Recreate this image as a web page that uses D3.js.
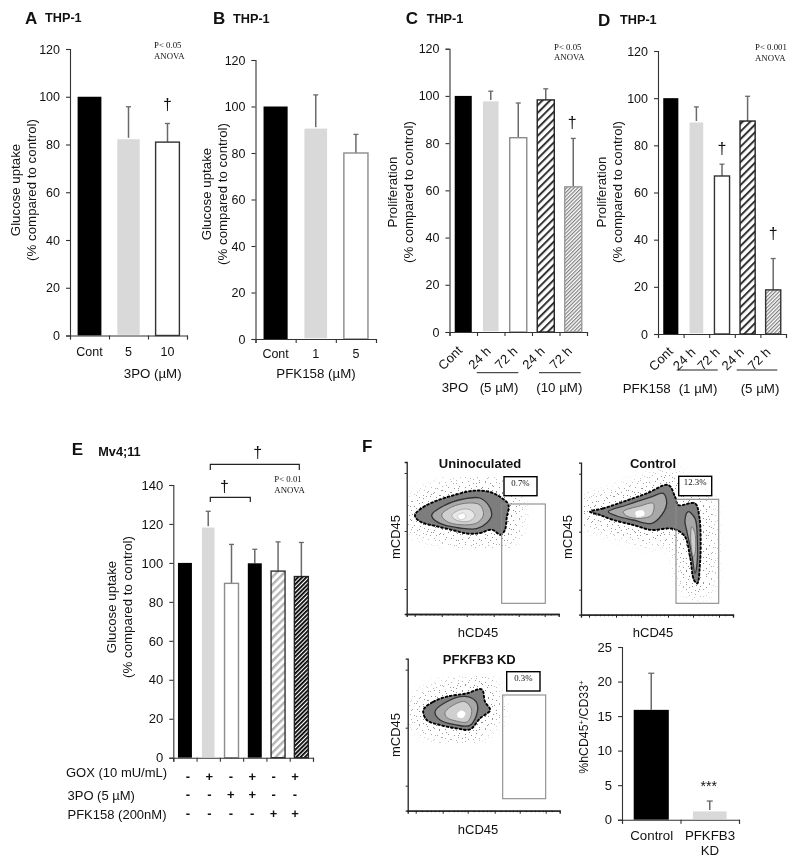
<!DOCTYPE html>
<html><head><meta charset="utf-8">
<script src="https://cdn.jsdelivr.net/npm/d3@7"></script>
<style>html,body{margin:0;padding:0;background:#fff}svg{display:block;opacity:.999}
text{font-family:"Liberation Sans",Arial,sans-serif;fill:#111}
.serif{font-family:"Liberation Serif",serif}</style></head><body>
<svg id="c" width="800" height="867"></svg>
<script>
// ---- Panel values (bar height, top of error bar) ----
const aCats=["Cont","5","10"], aVals=[100,82.5,81], aErr=[100,95.8,88.8];
const bCats=["Cont","1","5"], bVals=[100,90.8,80], bErr=[100,105,88];
const cCats=["Cont","24 h","72 h","24 h","72 h"], cVals=[100,98,82.3,98.3,61.5], cErr=[100,102,97,103,82];
const dCats=["Cont","24 h","72 h","24 h","72 h"], dVals=[100,90,67,90.3,18.7], dErr=[100,96.3,72,100.8,32];
const eVals=[100,118.5,89.5,99.8,95.8,93], eErr=[100,126.5,109.5,107,110.8,110.5];
const gox=["-","+","-","+","-","+"], tpo=["-","-","+","+","-","-"], pfk=["-","-","-","-","+","+"];
const fCats=["Control","PFKFB3"], fVals=[15.9,1.3], fErr=[21.2,2.7];
const tick120=[0,20,40,60,80,100,120], tick140=[0,20,40,60,80,100,120,140], tick25=[0,5,10,15,20,25];

// ---- Flow cytometry outlines (channel units) ----
const f1Outer=[[8.3,99.3],[16.7,107],[30,113.3],[46.7,118.7],[66.7,123.3],[83.3,122],[95,116],[101.7,109.3],[100,96],[98.3,84.3],[94,79.3],[85,84.3],[73.3,81],[61.7,80.3],[46.7,83.7],[30,87.7],[16.7,91],[10,95]];
const f1Mid=[[25,99],[36.7,108],[56.7,115],[73,116],[81.7,109],[85,99],[80,91],[70,85.3],[53,86],[36.7,89.3],[26.7,95]];
const f1Inner=[[35,99],[45,107],[61.7,111],[73.3,109],[76.7,99],[70,91],[53.3,89.3],[40,92.7]];
const f1Inner2=[[45,98.3],[53.3,104.3],[63.3,104.3],[68.3,98.3],[61.7,92.7],[50,93.7]];
const f1Core=[[50.7,98.3],[56.7,101],[59.3,97],[53.3,94.3]];
const f2Outer=[[9,103],[22.3,106.3],[42.3,113],[65.7,121.3],[87.3,129.7],[94,118],[97.3,109.7],[114,111.3],[118.3,98],[119.7,74.7],[119,51.3],[116.3,31.3],[113,34.7],[109,58],[104,78],[95.7,84.7],[87.3,86.3],[70.7,84.7],[52.3,89.7],[32.3,94.7],[19,99.7]];
const f2Mid=[[27.3,103],[45.7,109.7],[69,117.3],[82.3,121.3],[85.7,111.3],[80.7,99.7],[70.7,91.3],[52.3,94.7],[35.7,98.7]];
const f2Tail=[[107.3,103],[114,96.3],[116.3,74.7],[115.7,48],[114,41.3],[110.7,61.3],[106.3,81.3],[104,94.7]];
const f2Inner=[[42.3,103],[59,108.7],[72.3,111.3],[70.7,99.7],[59,96.3],[45.7,98.7]];
const f2TailIn=[[110.7,88],[114,81.3],[114,61.3],[112.3,58],[109.7,74.7]];
const f2Core=[[54,103],[62.3,104.7],[64,99.7],[55.7,97.3]];
const f3Outer=[[15.7,100.7],[25.7,109],[39,114],[59,117.3],[74,121.3],[77.3,109],[82.3,100.7],[72.3,92.3],[62.3,81.3],[49,82.3],[32.3,85.7],[19,90.7]];
const f3Mid=[[27.3,99],[39,109],[57.3,114.3],[68.3,109],[69.7,99],[62.3,85.3],[47.3,86],[32.3,90.7]];
const f3Inner=[[37.3,98],[45.7,105.7],[57.3,109],[64,100.7],[59.7,89],[47.3,90],[39,93.3]];
const f3Core=[[49,97.3],[54,100.7],[58.3,97.3],[55,92.3],[50,93.3]];
const flowYTicks=[25,83,141], flowXTicks=[8,35,60,87,112,138];
const flowXMinor=[14,19,23,27,31,41,46,50,54,57,66,71,75,79,83,93,98,102,105,109,118,123,127,131,135,144];

const svg=d3.select("#c");
const defs=svg.append("defs");
function hatch(id,w,bg,fg,sw){
  const p=defs.append("pattern").attr("id",id).attr("width",w).attr("height",w)
    .attr("patternUnits","userSpaceOnUse").attr("patternTransform","rotate(45)");
  p.append("rect").attr("width",w).attr("height",w).attr("fill",bg);
  p.append("rect").attr("width",sw).attr("height",w).attr("fill",fg);
}
hatch("hWide",5.4,"#fff","#333",2);
hatch("hFine",2.6,"#fff","#808080",1.2);
hatch("hLight",5.4,"#fff","#b5b5b5",2.4);
hatch("hDense",3,"#fff","#000",1.8);

function speck(id,w,h,pts){
  const sp=defs.append("pattern").attr("id",id).attr("width",w).attr("height",h).attr("patternUnits","userSpaceOnUse");
  pts.forEach(d=>sp.append("rect").attr("x",d[0]).attr("y",d[1]).attr("width",1).attr("height",1).attr("fill","#8c8c8c"));
}
speck("speck",17,19,[[1,2],[6,0],[11,3],[15,1],[3,7],[9,6],[14,8],[0,11],[6,12],[12,13],[16,15],[3,16],[9,17]]);
speck("speck2",23,13,[[2,1],[9,4],[16,2],[21,7],[5,9],[13,11],[19,12]]);
defs.append("filter").attr("id","blur").attr("x","-30%").attr("y","-30%").attr("width","160%").attr("height","160%")
  .append("feGaussianBlur").attr("stdDeviation",6);
defs.append("filter").attr("id","soft").append("feGaussianBlur").attr("stdDeviation",0.45);

const STYLES={black:{fill:"#000"},gray:{fill:"#d9d9d9",stroke:"#fff"},white:{fill:"#fff",stroke:"#333"},
  whiteG:{fill:"#fff",stroke:"#8c8c8c"},wide:{fill:"url(#hWide)",stroke:"#222"},fine:{fill:"url(#hFine)",stroke:"#999"},
  fineD:{fill:"url(#hFine)",stroke:"#333"},light:{fill:"url(#hLight)",stroke:"#333"},dense:{fill:"url(#hDense)",stroke:"#222"}};

function txt(x,y,s,o={}){
  const t=svg.append("text").attr("x",x).attr("y",y).text(s)
    .attr("font-size",o.size||13.3).attr("text-anchor",o.anchor||"middle");
  if(o.bold)t.attr("font-weight","bold");
  if(o.serif)t.attr("class","serif");
  if(o.rot!==undefined)t.attr("transform",`rotate(${o.rot} ${x} ${y})`);
  return t;
}
function panel(o){
  const y=d3.scaleLinear().domain(o.yDom).range([o.y0,o.y1]);
  const x=d3.scaleBand().domain(d3.range(o.vals.length)).range([o.x0,o.x1]).paddingInner(o.pad).paddingOuter(o.pad/2);
  const g=svg.append("g");
  const capW=o.cap||5;
  o.err.forEach((e,i)=>{ if(e<=o.vals[i])return;
    const cx=x(i)+x.bandwidth()/2;
    g.append("line").attr("x1",cx).attr("x2",cx).attr("y1",y(o.vals[i])).attr("y2",y(e)).attr("stroke","#6a6a6a").attr("stroke-width",1.5);
    g.append("line").attr("x1",cx-capW/2).attr("x2",cx+capW/2).attr("y1",y(e)).attr("y2",y(e)).attr("stroke","#6a6a6a").attr("stroke-width",1.3);
  });
  g.selectAll("rect.b").data(o.vals).join("rect").attr("class","b")
    .attr("x",(d,i)=>x(i)).attr("width",x.bandwidth()).attr("y",d=>y(d)).attr("height",d=>y(0)-y(d))
    .attr("fill",(d,i)=>STYLES[o.styles[i]].fill)
    .attr("stroke",(d,i)=>STYLES[o.styles[i]].stroke||"none").attr("stroke-width",1.4);
  const ax=g.append("g").attr("transform",`translate(${o.x0},0)`)
    .call(d3.axisLeft(y).tickValues(o.ticks).tickSize(4).tickPadding(6));
  ax.selectAll("text").attr("font-size",o.tickSize||12.5).attr("fill","#111").attr("font-family",'"Liberation Sans",Arial,sans-serif');
  const xl=d3.scaleLinear().domain([0,o.vals.length]).range([o.x0,o.x1]);
  const bx=g.append("g").attr("transform",`translate(0,${o.y0})`)
    .call(d3.axisBottom(xl).tickValues(d3.range(o.vals.length+1)).tickSize(4).tickSizeOuter(4).tickFormat(""));
  [ax,bx].forEach(a=>{a.selectAll("path,line").attr("stroke","#333").attr("stroke-width",1.1)});
  return {x,y};
}
function yTitle(bx,cy,lines,gap,size){
  lines.forEach((l,i)=>txt(bx+i*gap,cy,l,{rot:-90,size:size||13.3}));
}
const glu=["Glucose uptake","(% compared to control)"], pro=["Proliferation","(% compared to control)"];

// ---- A ----
{ const p=panel({vals:aVals,err:aErr,styles:["black","gray","white"],x0:70,x1:187,y0:335.5,y1:49,yDom:[0,120],ticks:tick120,pad:.39});
  aCats.forEach((c,i)=>txt(p.x(i)+p.x.bandwidth()/2,356,c,{size:12.5}));
  txt(152.7,378,"3PO (µM)");
  txt(p.x(2)+p.x.bandwidth()/2,p.y(94.4),"†",{size:16});
  txt(25,24,"A",{bold:1,size:17,anchor:"start"}); txt(45,22,"THP-1",{bold:1,size:12.7,anchor:"start"});
  txt(154,48,"P< 0.05",{serif:1,size:8.8,anchor:"start"}); txt(154,59,"ANOVA",{serif:1,size:8.8,anchor:"start"});
  yTitle(20,190,glu,16);
}
// ---- B ----
{ const p=panel({vals:bVals,err:bErr,styles:["black","gray","whiteG"],x0:255.5,x1:376,y0:339,y1:60,yDom:[0,120],ticks:tick120,pad:.4});
  bCats.forEach((c,i)=>txt(p.x(i)+p.x.bandwidth()/2,358,c,{size:12.5}));
  txt(316,378,"PFK158 (µM)");
  txt(213,24,"B",{bold:1,size:17,anchor:"start"}); txt(233,23,"THP-1",{bold:1,size:12.7,anchor:"start"});
  yTitle(211,194,glu,15.5);
}
// ---- C ----
{ const p=panel({vals:cVals,err:cErr,styles:["black","gray","whiteG","wide","fine"],x0:449.5,x1:587,y0:332,y1:48.7,yDom:[0,120],ticks:tick120,pad:.38});
  const lx=[453.3,482.7,509.3,536.7,564];
  cCats.forEach((c,i)=>txt(lx[i],361,c,{rot:-45,size:13}));
  svg.append("line").attr("x1",476.7).attr("x2",518.3).attr("y1",372.7).attr("y2",372.7).attr("stroke","#222");
  svg.append("line").attr("x1",539).attr("x2",580.7).attr("y1",372.7).attr("y2",372.7).attr("stroke","#222");
  txt(455,392,"3PO"); txt(499,392,"(5 µM)"); txt(559.3,392,"(10 µM)");
  txt(p.x(4)+p.x.bandwidth()/2-1,p.y(86.4),"†",{size:16});
  txt(405.7,24,"C",{bold:1,size:17,anchor:"start"}); txt(426.7,23,"THP-1",{bold:1,size:12.7,anchor:"start"});
  txt(554,49.5,"P< 0.05",{serif:1,size:8.8,anchor:"start"}); txt(554,60,"ANOVA",{serif:1,size:8.8,anchor:"start"});
  yTitle(397,192,pro,16);
}
// ---- D ----
{ const p=panel({vals:dVals,err:dErr,styles:["black","gray","white","wide","fineD"],x0:658,x1:786,y0:334,y1:51,yDom:[0,120],ticks:tick120,pad:.41});
  const lx=[664,687.3,711.7,736,762.3];
  dCats.forEach((c,i)=>txt(lx[i],362,c,{rot:-45,size:13}));
  svg.append("line").attr("x1",676.7).attr("x2",717.7).attr("y1",370).attr("y2",370).attr("stroke","#222");
  svg.append("line").attr("x1",736.7).attr("x2",777.3).attr("y1",370).attr("y2",370).attr("stroke","#222");
  txt(646.7,393,"PFK158"); txt(698,393,"(1 µM)"); txt(760,393,"(5 µM)");
  txt(p.x(2)+p.x.bandwidth()/2,p.y(76.3),"†",{size:16});
  txt(p.x(4)+p.x.bandwidth()/2,p.y(40.2),"†",{size:16});
  txt(598,26,"D",{bold:1,size:17,anchor:"start"}); txt(620,24,"THP-1",{bold:1,size:12.7,anchor:"start"});
  txt(755,50,"P< 0.001",{serif:1,size:8.8,anchor:"start"}); txt(755,61,"ANOVA",{serif:1,size:8.8,anchor:"start"});
  yTitle(606,192,pro,16);
}
// ---- E ----
{ const p=panel({vals:eVals,err:eErr,styles:["black","gray","whiteG","black","light","dense"],x0:173.3,x1:313,y0:757.7,y1:485,yDom:[0,140],ticks:tick140,pad:.4,tickSize:13});
  const rows=[["GOX (10 mU/mL)",gox,781,777,66],["3PO (5 µM)",tpo,799,800,67.5],["PFK158 (200nM)",pfk,818,819,67.5]];
  const sx=d3.scalePoint().domain(d3.range(6)).range([188,295]);
  rows.forEach(r=>{ txt(r[4],r[3],r[0],{anchor:"start",size:13});
    r[1].forEach((s,i)=>txt(sx(i),r[2],s,{size:13,bold:1}));
  });
  const br=(x1,x2,yt,yb)=>svg.append("path").attr("d",`M${x1},${yb}V${yt}H${x2}V${yb}`).attr("fill","none").attr("stroke","#222").attr("stroke-width",1.2);
  br(210.3,299.3,464.3,470); br(210.3,250.3,497.3,502);
  txt(257.7,458,"†",{size:16}); txt(224.5,492,"†",{size:16});
  txt(71.7,455,"E",{bold:1,size:17,anchor:"start"}); txt(98.3,455.7,"Mv4;11",{bold:1,size:12.7,anchor:"start"});
  txt(274.3,481.7,"P< 0.01",{serif:1,size:8.8,anchor:"start"}); txt(274.3,492.7,"ANOVA",{serif:1,size:8.8,anchor:"start"});
  yTitle(116,607,glu,16);
}
// ---- F bars ----
{ const p=panel({vals:fVals,err:fErr,styles:["black","gray"],x0:622,x1:739,y0:819.7,y1:647,yDom:[0,25],ticks:tick25,pad:.4,tickSize:13,cap:6});
  txt(651.7,840,fCats[0]); txt(710,840,fCats[1]); txt(710,855,"KD");
  txt(p.x(1)+p.x.bandwidth()/2-1,p.y(1.3)-20,"***",{size:14});
  const t=svg.append("text").attr("transform","translate(588,727) rotate(-90)").attr("text-anchor","middle").attr("font-size",12.3);
  t.append("tspan").text("%hCD45");
  t.append("tspan").text("+").attr("font-size",8).attr("dy",-4);
  t.append("tspan").text("/CD33").attr("dy",4);
  t.append("tspan").text("+").attr("font-size",8).attr("dy",-4);
}
// ---- F flow plots ----
txt(362,452,"F",{bold:1,size:17,anchor:"start"});
function flow(o){
  const L=152;
  const x=d3.scaleLinear().domain([0,L]).range([o.x0,o.x0+L]);
  const y=d3.scaleLinear().domain([0,L]).range([o.yb,o.yb-L]);
  const line=d3.line().x(d=>x(d[0])).y(d=>y(d[1])).curve(d3.curveCatmullRomClosed.alpha(.5));
  const m=defs.append("mask").attr("id",o.id+"m").attr("maskUnits","userSpaceOnUse").attr("x",o.x0-5).attr("y",o.yb-L-5).attr("width",L+10).attr("height",L+10);
  m.append("rect").attr("x",o.x0-5).attr("y",o.yb-L-5).attr("width",L+10).attr("height",L+10).attr("fill","#000");
  o.outers.forEach(r=>m.append("path").attr("d",line(r)).attr("fill","#fff").attr("stroke","#fff").attr("stroke-width",30).attr("filter","url(#blur)"));
  const g=svg.append("g");
  ["speck","speck2"].forEach(s=>g.append("rect").attr("x",o.x0+1).attr("y",o.yb-L).attr("width",L-1).attr("height",L-1).attr("fill",`url(#${s})`).attr("mask",`url(#${o.id}m)`));
  const f=g.append("g").attr("filter","url(#soft)");
  o.outers.forEach(r=>f.append("path").attr("d",line(r)).attr("fill","#7d7d7d").attr("stroke","#000").attr("stroke-width",1.9).attr("stroke-dasharray","1.8 2.6").attr("stroke-linecap","round"));
  const sty=[["#a8a8a8","#333"],["#cfcfcf","#777"],["#e8e8e8","#aaa"],["#fff","#ccc"]];
  o.rings.forEach(r=>f.append("path").attr("d",line(r[0])).attr("fill",sty[r[1]][0]).attr("stroke",sty[r[1]][1]).attr("stroke-width",r[1]==0?1.3:1));
  g.append("rect").attr("x",x(o.gate[0])).attr("y",y(o.gate[3])).attr("width",x(o.gate[1])-x(o.gate[0])).attr("height",y(o.gate[2])-y(o.gate[3]))
    .attr("fill","none").attr("stroke","#8a8a8a").attr("stroke-width",1.1);
  g.append("rect").attr("x",o.box[0]).attr("y",o.box[1]).attr("width",o.box[2]).attr("height",o.box[3]).attr("fill","#fff").attr("stroke","#000").attr("stroke-width",1.4);
  txt(o.box[0]+o.box[2]/2,o.box[1]+9,o.pct,{serif:1,size:8.8});
  const ay=g.append("g").attr("transform",`translate(${o.x0},0)`).call(d3.axisLeft(y).tickValues(flowYTicks).tickSize(2).tickFormat(""));
  const ax=g.append("g").attr("transform",`translate(0,${o.yb})`).call(d3.axisBottom(x).tickValues(flowXTicks).tickSize(3).tickFormat(""));
  const ax2=g.append("g").attr("transform",`translate(0,${o.yb})`).call(d3.axisBottom(x).tickValues(flowXMinor).tickSize(1.5).tickFormat(""));
  [ay,ax,ax2].forEach(a=>{a.selectAll("path,line").attr("stroke","#222");a.select("path").attr("stroke-width",1.3)});
  txt(o.tx,o.ty,o.title,{bold:1,size:13});
  txt(o.lx,o.ly,"hCD45",{size:13});
  txt(o.mx,o.my,"mCD45",{size:13,rot:-90});
}
flow({id:"f1",x0:406.7,yb:614,outers:[f1Outer],rings:[[f1Mid,0],[f1Inner,1],[f1Inner2,2],[f1Core,3]],gate:[95,138.6,10.7,110],box:[504,476.7,33,19],pct:"0.7%",title:"Uninoculated",tx:480,ty:468,lx:478,ly:637,mx:400,my:537});
flow({id:"f2",x0:581,yb:614.7,outers:[f2Outer],rings:[[f2Mid,0],[f2Tail,0],[f2Inner,1],[f2TailIn,1],[f2Core,3]],gate:[95,137.7,11.4,115.4],box:[678.7,476.3,33,19.4],pct:"12.3%",title:"Control",tx:653,ty:468,lx:653,ly:637,mx:572,my:537});
flow({id:"f3",x0:407.7,yb:810.7,outers:[f3Outer],rings:[[f3Mid,0],[f3Inner,1],[f3Core,3]],gate:[95,138,12,115.7],box:[506.7,671.7,33.3,19.3],pct:"0.3%",title:"PFKFB3 KD",tx:479.3,ty:664,lx:478,ly:834,mx:400,my:735});
</script></body></html>
